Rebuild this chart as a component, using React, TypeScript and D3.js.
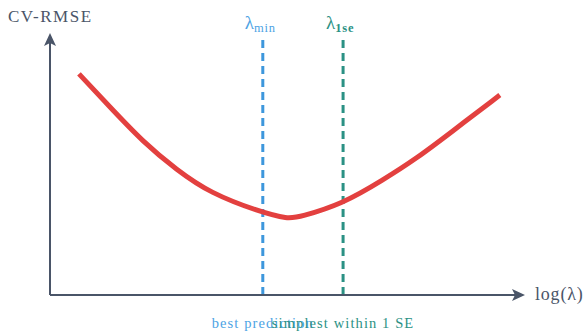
import * as d3 from "d3";

// log(lambda) positions and CV-RMSE values
const logLambda = [0.61, 1.26, 1.96, 2.67, 3.37, 4.42, 5.01, 5.26, 6.15, 7.01, 7.73, 8.42, 9.47];
const cvRmse = [8.44, 7.18, 5.84, 4.77, 3.89, 3.17, 2.9, 2.98, 3.47, 4.39, 5.23, 6.18, 7.63];

const lambdaMin = 4.48;
const lambda1se = 6.17;

const W = 584;
const H = 331;

export default function App() {
  const x = d3.scaleLinear().domain([0, 10]).range([50, 525]);
  const y = d3.scaleLinear().domain([0, 10]).range([295, 33]);

  const pts = logLambda.map((v, i) => [v, cvRmse[i]] as [number, number]);
  const line = d3
    .line<[number, number]>()
    .x((d) => x(d[0]))
    .y((d) => y(d[1]))
    .curve(d3.curveBasis);

  const axisColor = "#4a5568";
  const blue = "#3d97dc";
  const teal = "#2b9184";
  const font = "'Liberation Serif', 'Times New Roman', serif";

  const x0 = x(0);
  const y0 = y(0);
  const yTop = y(10);
  const xEnd = x(10);

  return (
    <svg
      width={W}
      height={H}
      style={{ position: "absolute", left: 0, top: 0, display: "block", fontFamily: font }}
    >
      <rect width={W} height={H} fill="#fff" />

      {/* vertical reference lines */}
      <line x1={x(lambdaMin)} x2={x(lambdaMin)} y1={40} y2={y0} stroke={blue} strokeWidth={3} strokeDasharray="8,5" />
      <line x1={x(lambda1se)} x2={x(lambda1se)} y1={40} y2={y0} stroke={teal} strokeWidth={3} strokeDasharray="8,5" />

      {/* axes */}
      <line x1={x0} x2={x0} y1={y0} y2={yTop + 6} stroke={axisColor} strokeWidth={2} />
      <line x1={x0} x2={xEnd - 6} y1={y0} y2={y0} stroke={axisColor} strokeWidth={2} />
      <path
        d={`M${x0},${yTop} L${x0 - 6},${yTop + 13} L${x0},${yTop + 10} L${x0 + 6},${yTop + 13} Z`}
        fill={axisColor}
      />
      <path
        d={`M${xEnd},${y0} L${xEnd - 13},${y0 - 6} L${xEnd - 10},${y0} L${xEnd - 13},${y0 + 6} Z`}
        fill={axisColor}
      />

      {/* CV curve */}
      <path d={line(pts) ?? ""} fill="none" stroke="#e3403f" strokeWidth={5} />

      {/* labels */}
      <text x={8} y={22} fontSize={17} letterSpacing={1.5} fill={axisColor}>CV-RMSE</text>
      <text x={535} y={300} fontSize={18} letterSpacing={0.8} fill={axisColor}>log(λ)</text>

      <text x={x(lambdaMin) - 18} y={29} fontSize={19} fill="#4da3e4">
        λ<tspan fontSize={12.5} dy={3} letterSpacing={0.8}>min</tspan>
      </text>
      <text x={x(lambda1se) - 17} y={29} fontSize={19} fill={teal}>
        λ<tspan fontSize={12.5} dy={3} fontWeight="bold" letterSpacing={0.8}>1se</tspan>
      </text>

      <text x={x(lambdaMin)} y={328} fontSize={14.5} letterSpacing={1.1} textAnchor="middle" fill="#4da3e4">best prediction</text>
      <text x={x(lambda1se)} y={328} fontSize={14.5} letterSpacing={1.1} textAnchor="middle" fill={teal}>simplest within 1 SE</text>
    </svg>
  );
}
